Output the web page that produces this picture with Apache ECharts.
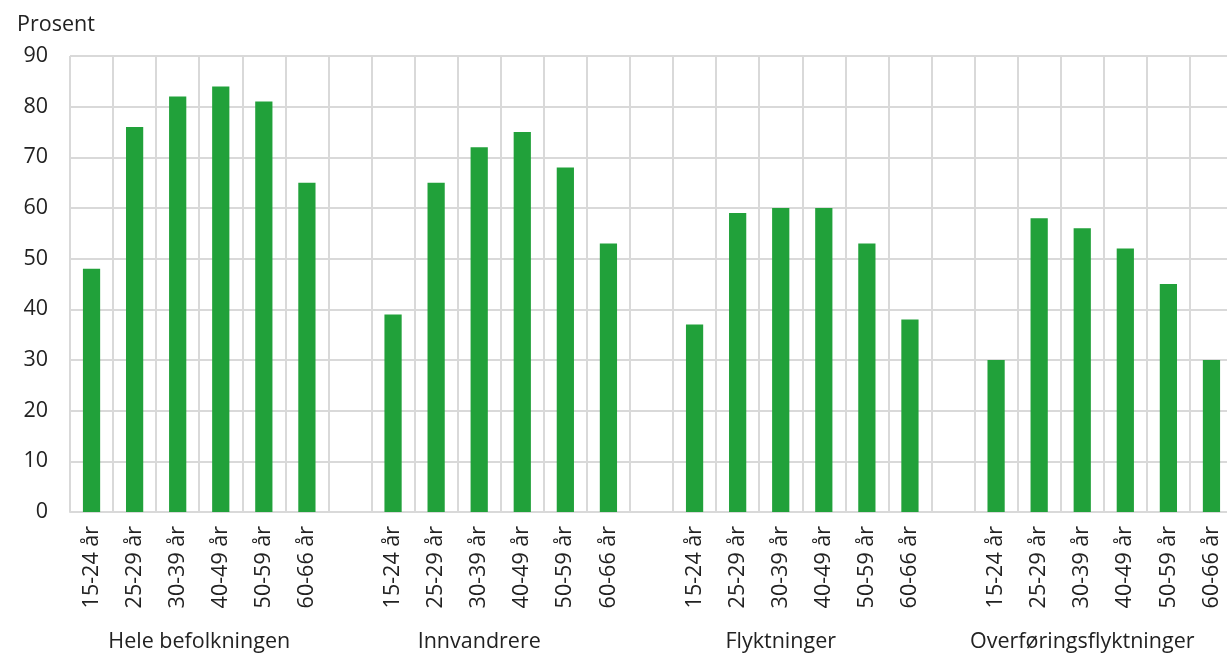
<!DOCTYPE html>
<html>
<head>
<meta charset="utf-8">
<script src="https://cdn.jsdelivr.net/npm/echarts@6/dist/echarts.min.js"></script>
<style>html,body{margin:0;padding:0;background:#fff;overflow:hidden;width:1227px;height:655px}#c{width:1245px;height:655px}</style>
</head>
<body>
<div id="c"></div>
<script>
const ageBands = ['15-24 år','25-29 år','30-39 år','40-49 år','50-59 år','60-66 år'];
const groups = ['Hele befolkningen','Innvandrere','Flyktninger','Overføringsflyktninger'];
const heleBefolkningen = [48,76,82,84,81,65];
const innvandrere = [39,65,72,75,68,53];
const flyktninger = [37,59,60,60,53,38];
const overforingsflyktninger = [30,58,56,52,45,30];
const yTicks = {min:0, max:90, interval:10};

const groupValues = [heleBefolkningen, innvandrere, flyktninger, overforingsflyktninger];
const categories = [];
const values = [];
const groupCenters = {};
groupValues.forEach((vals, g) => {
  const start = categories.length;           // group span includes its leading blank slot
  if (g > 0) { categories.push(''); values.push(null); }
  ageBands.forEach((a, i) => { categories.push(a); values.push(vals[i]); });
  groupCenters[(start + categories.length) / 2] = groups[g];
});

const FONT = '"Open Sans", sans-serif';
const FS = 21.5;
const chart = echarts.init(document.getElementById('c'), null, {renderer:'canvas'});
chart.setOption({
  animation: false,
  title: {text:'Prosent', left:12, top:9, textStyle:{fontFamily:FONT, fontSize:FS, fontWeight:'normal', color:'#222'}},
  grid: {left:70, right:12, top:56, bottom:143, containLabel:false},
  xAxis: [{
    type:'category', data:categories, boundaryGap:true,
    axisLine:{show:true, lineStyle:{color:'#d9d9d9', width:2}},
    axisTick:{show:false},
    splitLine:{show:true, interval:0, lineStyle:{color:'#d9d9d9', width:2}},
    axisLabel:{interval:0, rotate:90, margin:14, fontFamily:FONT, fontSize:FS, color:'#222'}
  },{
    type:'value', min:0, max:categories.length, interval:0.5, position:'bottom', offset:113,
    axisLine:{show:false}, axisTick:{show:false}, splitLine:{show:false},
    axisLabel:{show:true, margin:6, fontFamily:FONT, fontSize:FS, color:'#222', showMinLabel:true, showMaxLabel:true, hideOverlap:false,
      formatter: v => groupCenters[v] || ''}
  }],
  yAxis: {
    type:'value', min:yTicks.min, max:yTicks.max, interval:yTicks.interval,
    axisLine:{show:false}, axisTick:{show:false},
    splitLine:{show:true, lineStyle:{color:'#d9d9d9', width:2}},
    axisLabel:{margin:22, fontFamily:FONT, fontSize:FS, color:'#222'}
  },
  series: [{
    type:'bar', data:values, xAxisIndex:0, barWidth:'40%',
    itemStyle:{color:'#21a13a'}
  }]
});
</script>
</body>
</html>
